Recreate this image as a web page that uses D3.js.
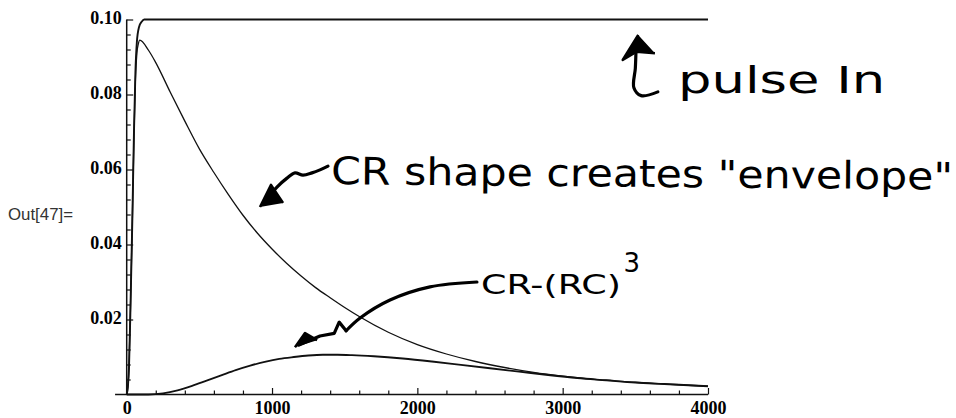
<!DOCTYPE html>
<html>
<head>
<meta charset="utf-8">
<script src="https://cdn.jsdelivr.net/npm/d3@7"></script>
<style>
  html, body { margin: 0; padding: 0; background: #fff; }
  svg { display: block; }
</style>
</head>
<body>
<script>
// ---------------- data ----------------
const xMajorTicks = [0, 1000, 2000, 3000, 4000];
const xMinorTicks = [200, 400, 600, 800, 1200, 1400, 1600, 1800, 2200, 2400, 2600, 2800, 3200, 3400, 3600, 3800];
const yMajorTicks = [0.02, 0.04, 0.06, 0.08, 0.10];
const yMinorTicks = [0.004, 0.008, 0.012, 0.016, 0.024, 0.028, 0.032, 0.036, 0.044, 0.048, 0.052, 0.056, 0.064, 0.068, 0.072, 0.076, 0.084, 0.088, 0.092, 0.096];

// input pulse
const pulseT = [0, 8, 16, 27, 39, 50, 60, 70, 85, 103, 120, 4000];
const pulseV = [0, 0.002, 0.0074, 0.025, 0.047, 0.070, 0.086, 0.094, 0.098, 0.0994, 0.1, 0.1];

// CR output
const crT = [0, 8, 16, 27, 39, 50, 60, 70, 80, 90, 150, 200, 300, 400, 500, 600, 700, 800, 900, 1000, 1100, 1200, 1300, 1400, 1500, 1600, 1800, 2000, 2200, 2400, 2600, 2800, 3000, 3200, 3400, 3600, 3800, 4000];
const crV = [0, 0.002, 0.0074, 0.025, 0.047, 0.069, 0.084, 0.091, 0.0935, 0.0945, 0.0918, 0.0885, 0.0806, 0.0729, 0.0655, 0.0592, 0.0533, 0.0478, 0.0430, 0.0388, 0.0350, 0.0316, 0.0285, 0.0258, 0.0232, 0.0208, 0.0166, 0.0133, 0.0108, 0.0088, 0.0072, 0.0059, 0.0049, 0.0041, 0.0035, 0.0030, 0.0026, 0.0022];

// CR-(RC)^3 output
const shT = [0, 150, 250, 350, 450, 550, 650, 750, 850, 950, 1050, 1150, 1250, 1350, 1450, 1550, 1700, 1900, 2100, 2300, 2500, 2700, 2900, 3100, 3300, 3500, 3700, 3900, 4000];
const shV = [0, 0, 0.0003, 0.0011, 0.0023, 0.0037, 0.0051, 0.0065, 0.0077, 0.0087, 0.0095, 0.0100, 0.0104, 0.0106, 0.0106, 0.0105, 0.0102, 0.0096, 0.0088, 0.0079, 0.0070, 0.0061, 0.0052, 0.0044, 0.0038, 0.0032, 0.0028, 0.0024, 0.0022];

// handwritten annotations, in data coordinates
const notePulse = { t: 3794, v: 0.0804, text: "pulse In" };
const noteCR = { t: 1406, v: 0.0561, text: "CR shape creates \"envelope\"" };
const noteSh = { t: 2438, v: 0.0268, text: "CR-(RC)" };
const noteShExp = { t: 3418, v: 0.0328, text: "3" };
const arrowPulseStem = [[3655, 0.0807], [3540, 0.0797], [3490, 0.0818], [3500, 0.0870], [3505, 0.0924]];
const arrowPulseHead = [[3520, 0.0959], [3413, 0.0892], [3509, 0.0914], [3635, 0.0910]];
const arrowCRStem = [[1385, 0.0609], [1330, 0.0599], [1275, 0.0591], [1213, 0.0585], [1158, 0.0591], [1103, 0.0577], [1034, 0.0553], [945, 0.0512]];
const arrowCRHead = [[917, 0.0500], [993, 0.0559], [1076, 0.0511]];
const arrowShStem = [[2410, 0.0300], [2087, 0.0287], [1812, 0.0252], [1606, 0.0204], [1510, 0.0170]];
const arrowShZig = [[1510, 0.0170], [1462, 0.0193], [1428, 0.0163], [1330, 0.0156], [1185, 0.0132]];
const arrowShHead = [[1158, 0.0126], [1227, 0.0164], [1310, 0.0145]];

// ---------------- drawing ----------------
const W = 956, H = 418;
const svg = d3.select("body").append("svg").attr("width", W).attr("height", H);

const x = d3.scaleLinear().domain([0, 4000]).range([126.7, 708]);
const y = d3.scaleLinear().domain([0, 0.1]).range([394.5, 19.5]);

const ink = "#111";
const tickFont = "'Liberation Serif', 'Times New Roman', serif";

// x axis
const gx = svg.append("g").attr("transform", `translate(0,${y(0)})`);
gx.call(d3.axisBottom(x).tickValues(xMajorTicks).tickSize(-6.5).tickSizeOuter(0).tickPadding(7).tickFormat(d3.format("d")));
gx.select(".domain").remove();
const gx2 = svg.append("g").attr("transform", `translate(0,${y(0)})`);
gx2.call(d3.axisBottom(x).tickValues(xMinorTicks).tickSize(-4).tickSizeOuter(0).tickFormat(""));
gx2.select(".domain").remove();

// y axis
const gy = svg.append("g").attr("transform", `translate(${x(0)},0)`);
gy.call(d3.axisLeft(y).tickValues(yMajorTicks).tickSize(-6.5).tickSizeOuter(0).tickPadding(5).tickFormat(d3.format(".2f")));
gy.select(".domain").remove();
const gy2 = svg.append("g").attr("transform", `translate(${x(0)},0)`);
gy2.call(d3.axisLeft(y).tickValues(yMinorTicks).tickSize(-4).tickSizeOuter(0).tickFormat(""));
gy2.select(".domain").remove();

svg.selectAll(".tick line").attr("stroke", ink).attr("stroke-width", 1.2);
svg.selectAll(".tick text")
  .attr("fill", "#000")
  .style("font-family", tickFont)
  .style("font-weight", "bold")
  .style("font-size", "18px");
gy.selectAll(".tick text").attr("dy", "0.22em");

// axis lines
svg.append("line").attr("x1", x(-80)).attr("x2", x(4000)).attr("y1", y(0)).attr("y2", y(0))
  .attr("stroke", ink).attr("stroke-width", 1.5);
svg.append("line").attr("x1", x(0)).attr("x2", x(0)).attr("y1", y(0)).attr("y2", y(0.1))
  .attr("stroke", ink).attr("stroke-width", 1.5);

// curves
const line = d3.line().x(d => x(d[0])).y(d => y(d[1])).curve(d3.curveMonotoneX);
const zip = (a, b) => a.map((t, i) => [t, b[i]]);

svg.append("path").datum(zip(shT, shV)).attr("d", line)
  .attr("fill", "none").attr("stroke", ink).attr("stroke-width", 1.8);
svg.append("path").datum(zip(crT, crV)).attr("d", line)
  .attr("fill", "none").attr("stroke", ink).attr("stroke-width", 1.3);
svg.append("path").datum(zip(pulseT, pulseV)).attr("d", line)
  .attr("fill", "none").attr("stroke", ink).attr("stroke-width", 1.9);

// Out[47]= label
svg.append("text").attr("x", 8).attr("y", 220)
  .attr("textLength", 65).attr("lengthAdjust", "spacingAndGlyphs")
  .style("font-family", "'Liberation Sans', Arial, sans-serif").style("font-size", "16px")
  .attr("fill", "#333").text("Out[47]=");

// handwritten annotations
const hand = "'DejaVu Sans', sans-serif";
const lineA = d3.line().x(d => x(d[0])).y(d => y(d[1])).curve(d3.curveCatmullRom.alpha(0.5));
const lineL = d3.line().x(d => x(d[0])).y(d => y(d[1]));
function stroke(pts, gen) {
  svg.append("path").datum(pts).attr("d", gen)
    .attr("fill", "none").attr("stroke", "#000").attr("stroke-width", 3.2)
    .attr("stroke-linecap", "round").attr("stroke-linejoin", "round");
}
function head(pts) {
  svg.append("path").datum(pts).attr("d", lineL)
    .attr("fill", "#000").attr("stroke", "#000").attr("stroke-width", 2.5).attr("stroke-linejoin", "round");
}
stroke(arrowPulseStem, lineA); head(arrowPulseHead);
stroke(arrowCRStem, lineA); head(arrowCRHead);
stroke(arrowShStem, lineA); stroke(arrowShZig, lineL); head(arrowShHead);

function note(n, size, len, rot) {
  const t = svg.append("text").attr("x", x(n.t)).attr("y", y(n.v))
    .style("font-family", hand).style("font-size", size + "px")
    .attr("fill", "#000").text(n.text);
  if (len) t.attr("textLength", len).attr("lengthAdjust", "spacingAndGlyphs");
  if (rot) t.attr("transform", `rotate(${rot},${x(n.t)},${y(n.v)})`);
}
note(notePulse, 38, 207, 0);
note(noteCR, 38, 622, 0.5);
note(noteSh, 26, 140, 0);
note(noteShExp, 26, 0, 0);
</script>
</body>
</html>
